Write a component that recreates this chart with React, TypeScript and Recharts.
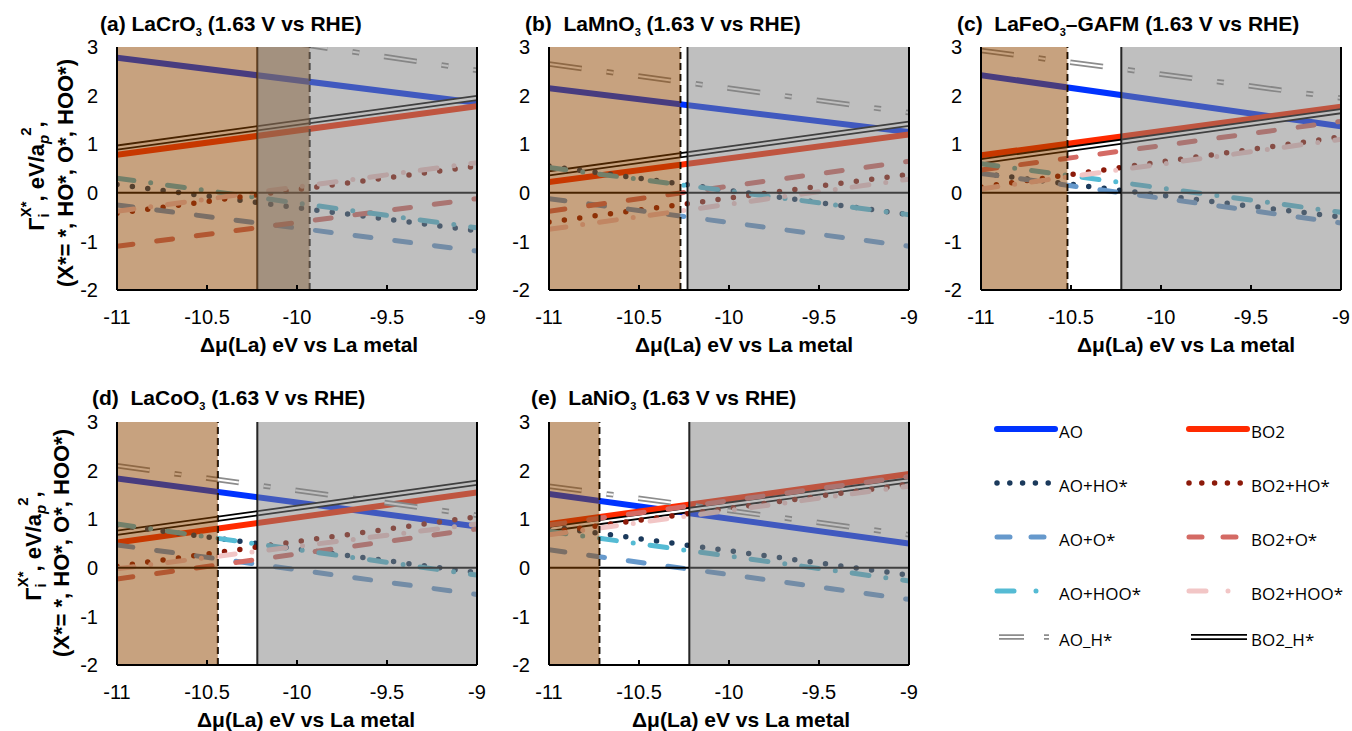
import React from 'react';
import { LineChart, Line, XAxis, YAxis, ReferenceArea, ReferenceLine } from 'recharts';

const FONT = '"Liberation Sans", Arial, Helvetica, sans-serif';
const LEGEND_FONT = '"Open Sans", "Noto Sans", sans-serif';

// every line is straight, so it is given by its value at both ends of the axis
const muLa = [-11, -9];
const xTicks = [-11, -10.5, -10, -9.5, -9];
const yTicks = [-2, -1, 0, 1, 2, 3];

const panelTags = ['(a) ', '(b)  ', '(c)  ', '(d)  ', '(e)  '];
const compounds = ['LaCrO', 'LaMnO', 'LaFeO', 'LaCoO', 'LaNiO'];
const compoundSuffix = ['', '', '\u2013GAFM', '', ''];

// shaded regions: brown from -11 to brownEnd (dashed), grey from greyStart (solid) to -9
const brownEnd = [-9.93, -10.27, -10.52, -10.44, -10.72];
const greyStart = [-10.22, -10.23, -10.22, -10.22, -10.22];

// [value at -11, value at -9] for panels a..e
const AO = [[2.78, 1.85], [2.15, 1.25], [2.42, 1.37], [1.84, 0.85], [1.52, 0.5]];
const BO2 = [[0.78, 1.78], [0.22, 1.2], [0.77, 1.77], [0.52, 1.55], [0.9, 1.93]];
const AO_H = [[3.62, 2.52], [2.65, 1.65], [2.93, 1.95], [2.1, 1.08], [1.68, 0.68]];
const BO2_H = [[0.93, 1.95], [0.4, 1.42], [0.65, 1.68], [0.72, 1.75], [0.8, 1.8]];
const AO_HO = [[0.17, -0.78], [0.55, -0.45], [0.4, -0.5], [0.88, -0.1], [0.85, -0.15]];
const BO2_HO = [[-0.42, 0.55], [-0.6, 0.38], [0.12, 1.15], [0.03, 1.05], [0.73, 1.72]];
const AO_O = [[-0.25, -1.2], [-0.12, -1.1], [0.4, -0.62], [0.47, -0.55], [0.37, -0.65]];
const BO2_O = [[-1.1, -0.12], [-0.38, 0.65], [0.47, 1.47], [-0.23, 0.8], [0.88, 1.88]];
const AO_HOO = [[0.3, -0.72], [0.52, -0.45], [0.6, -0.4], [0.9, -0.15], [0.75, -0.27]];
const BO2_HOO = [[-0.38, 0.62], [-0.75, 0.28], [0.08, 1.1], [-0.02, 0.9], [0.68, 1.68]];

type Series = {
  key: string;
  values: number[][];
  color: string;
  width: number;
  dash?: string;
  legendDash?: string;
  cap?: 'round' | 'butt';
  inner?: number;
};

const seriesList: Series[] = [
  { key: 'AO', values: AO, color: '#0033ff', width: 6 },
  { key: 'BO2', values: BO2, color: '#ff2a00', width: 6 },
  { key: 'AO_H*', values: AO_H, color: '#8c8c8c', width: 5.5, dash: '33 25 7 25', legendDash: '25 20 5 40', inner: 2 },
  { key: 'BO2_H*', values: BO2_H, color: '#000000', width: 6, inner: 2.4 },
  { key: 'AO+HO*', values: AO_HO, color: '#1b3a5c', width: 5.5, dash: '0 15.5', legendDash: '0 12.8', cap: 'round' },
  { key: 'BO2+HO*', values: BO2_HO, color: '#8c1a0a', width: 5.5, dash: '0 15.5', legendDash: '0 12.8', cap: 'round' },
  { key: 'AO+O*', values: AO_O, color: '#6699cc', width: 5, dash: '16 24', legendDash: '13 21', cap: 'round' },
  { key: 'BO2+O*', values: BO2_O, color: '#d46a64', width: 5, dash: '16 24', legendDash: '13 21', cap: 'round' },
  { key: 'AO+HOO*', values: AO_HOO, color: '#55bbd4', width: 5, dash: '17 17 0 17', legendDash: '17 22 0 40', cap: 'round' },
  { key: 'BO2+HOO*', values: BO2_HOO, color: '#f2c6c6', width: 5, dash: '17 17 0 17', legendDash: '17 22 0 40', cap: 'round' },
];

const legendRows = [
  ['AO', 'BO2'],
  ['AO+HO*', 'BO2+HO*'],
  ['AO+O*', 'BO2+O*'],
  ['AO+HOO*', 'BO2+HOO*'],
  ['AO_H*', 'BO2_H*'],
];
const legendY = [429, 483, 537, 591, 637];
const legendX = [997, 1189];

// plot-area corner and text positions of each panel
const layout = [
  { left: 117, top: 47, titleX: 100, titleY: 31, labelX: 200, labelY: 352 },
  { left: 549, top: 47, titleX: 525, titleY: 31, labelX: 635, labelY: 352 },
  { left: 981, top: 47, titleX: 957, titleY: 31, labelX: 1077, labelY: 352 },
  { left: 117, top: 422, titleX: 92, titleY: 405, labelX: 197, labelY: 727 },
  { left: 549, top: 422, titleX: 531, titleY: 405, labelX: 632, labelY: 727 },
];

const tickStyle = { fill: '#000', fontSize: 20, fontFamily: FONT };

const Panel = ({ idx }: { idx: number }) => {
  const L = layout[idx];
  const data = muLa.map((mu, i) => {
    const row: Record<string, number> = { mu };
    seriesList.forEach((s) => {
      row[s.key] = s.values[idx][i];
    });
    return row;
  });

  return (
    <div style={{ position: 'absolute', left: L.left - 60, top: L.top - 47 }}>
      <LineChart width={430} height={360} data={data} margin={{ top: 47, right: 0, bottom: 0, left: 0 }}>
        <XAxis
          dataKey="mu"
          type="number"
          domain={[-11, -9]}
          ticks={xTicks}
          interval={0}
          allowDataOverflow
          height={70}
          tickSize={-5}
          tickMargin={25}
          tick={tickStyle}
          stroke="#000"
          strokeWidth={2}
        />
        <XAxis xAxisId="t" orientation="top" type="number" domain={[-11, -9]} height={0} tick={false} tickLine={false} stroke="#000" strokeWidth={2} />
        <YAxis
          type="number"
          domain={[-2, 3]}
          ticks={yTicks}
          interval={0}
          allowDataOverflow
          width={60}
          tickLine={false}
          tickSize={0}
          tickMargin={19}
          tick={tickStyle}
          stroke="#000"
          strokeWidth={2}
        />
        <YAxis yAxisId="r" orientation="right" type="number" domain={[-2, 3]} ticks={yTicks} interval={0} width={10} tick={false} tickSize={5} stroke="#000" strokeWidth={2} />

        {seriesList.flatMap((s) => {
          const out = [
            <Line
              key={s.key}
              type="linear"
              dataKey={s.key}
              stroke={s.color}
              strokeWidth={s.width}
              strokeDasharray={s.dash}
              strokeLinecap={s.cap || 'butt'}
              dot={false}
              activeDot={false}
              isAnimationActive={false}
            />,
          ];
          if (s.inner) {
            out.push(
              <Line
                key={s.key + '-inner'}
                type="linear"
                dataKey={s.key}
                stroke="#ffffff"
                strokeWidth={s.inner}
                strokeDasharray={s.dash}
                dot={false}
                activeDot={false}
                isAnimationActive={false}
              />
            );
          }
          return out;
        })}

        <ReferenceLine y={0} stroke="#000" strokeWidth={2} zIndex={410} />
        <ReferenceLine x={greyStart[idx]} stroke="#000" strokeWidth={2} zIndex={410} />
        <ReferenceLine x={brownEnd[idx]} stroke="#000" strokeWidth={2} strokeDasharray="7 4" zIndex={410} />
        <ReferenceArea x1={-11} x2={brownEnd[idx]} fill="rgb(143,69,0)" fillOpacity={0.5} stroke="none" zIndex={450} />
        <ReferenceArea x1={greyStart[idx]} x2={-9} fill="rgb(128,128,128)" fillOpacity={0.5} stroke="none" zIndex={450} />
      </LineChart>
    </div>
  );
};

const YTitle = ({ x1, x2, cy }: { x1: number; x2: number; cy: number }) => (
  <g fontFamily={FONT} fontWeight="bold" fontSize={22} fill="#000">
    <text transform={`translate(${x1},${cy}) rotate(-90)`} textAnchor="middle">
      Γ<tspan fontSize={15} dy={5}>i</tspan>
      <tspan fontSize={15} dx={-4} dy={-18}>X*</tspan>
      <tspan dy={13}>, eV/a</tspan>
      <tspan fontSize={15} fontStyle="italic" dy={5}>p</tspan>
      <tspan fontSize={15} dx={-1} dy={-18}>2</tspan>
      <tspan dy={13}>,</tspan>
    </text>
    <text transform={`translate(${x2},${cy - 3}) rotate(-90)`} textAnchor="middle">
      (X*= *, HO*, O*, HOO*)
    </text>
  </g>
);

const LegendSample = ({ s, x, y }: { s: Series; x: number; y: number }) => {
  const cap = s.inner ? 'butt' : s.cap || 'round';
  const x0 = s.inner ? x + 2 : x;
  return (
    <g>
      <line x1={x0} x2={x + 58} y1={y} y2={y} stroke={s.color} strokeWidth={s.width} strokeDasharray={s.legendDash || s.dash} strokeLinecap={cap} />
      {s.inner ? (
        <line x1={x0} x2={x + 58} y1={y} y2={y} stroke="#fff" strokeWidth={s.inner} strokeDasharray={s.legendDash || s.dash} />
      ) : null}
    </g>
  );
};

const App = () => {
  return (
    <div style={{ position: 'absolute', left: 0, top: 0, width: 1352, height: 731, overflow: 'hidden', background: '#fff' }}>
      {layout.map((_, i) => (
        <Panel key={i} idx={i} />
      ))}
      <svg width={1352} height={731} style={{ position: 'absolute', left: 0, top: 0, pointerEvents: 'none' }}>
        {layout.map((L, i) => (
          <g key={i} fontFamily={FONT} fontWeight="bold" fontSize={21} fill="#000">
            <text x={L.titleX} y={L.titleY} style={{ whiteSpace: 'pre' }}>
              {panelTags[i] + compounds[i]}
              <tspan fontSize={11} dy={5}>3</tspan>
              <tspan dy={-5}>{compoundSuffix[i] + ' (1.63 V vs RHE)'}</tspan>
            </text>
            <text x={L.labelX} y={L.labelY}>Δμ(La) eV vs La metal</text>
          </g>
        ))}
        <YTitle x1={44} x2={73} cy={176} />
        <YTitle x1={41} x2={69} cy={546} />

        {legendRows.map((row, r) =>
          row.map((name, c) => {
            const s = seriesList.find((d) => d.key === name) as Series;
            return (
              <g key={name}>
                <LegendSample s={s} x={legendX[c]} y={legendY[r]} />
                <text x={legendX[c] + 62} y={legendY[r] + 9} fontFamily={LEGEND_FONT} fontSize={17} fill="#000">
                  {name}
                </text>
              </g>
            );
          })
        )}
      </svg>
    </div>
  );
};

export default App;
